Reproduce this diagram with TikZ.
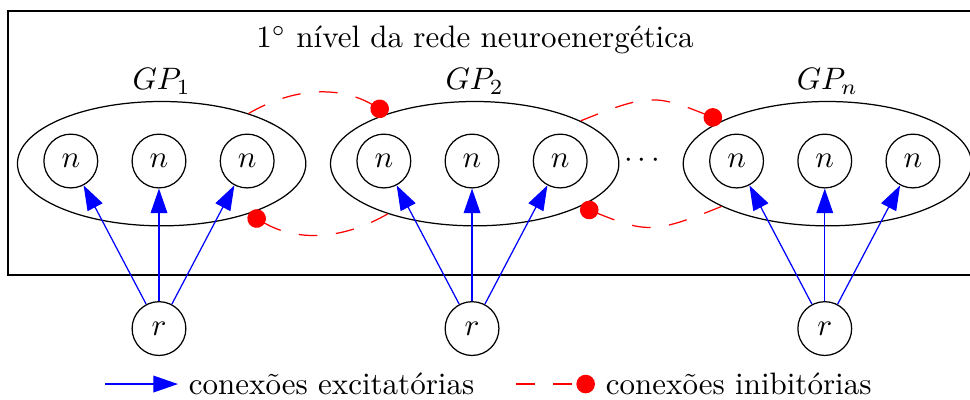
\documentclass[tikz,border=0pt]{standalone}
\usepackage{amsmath,amssymb}
\usetikzlibrary{arrows.meta,positioning,calc,shapes.geometric}

\begin{document}
\begin{tikzpicture}[
  neuron/.style={draw=black, circle, minimum size=6.1mm, inner sep=0pt},
  grupo/.style={draw=black, ellipse, minimum width=3.27cm, minimum height=1.41cm,
                inner sep=0pt, label={[inner sep=2pt]above:#1}},
  excit/.style={draw=blue, -{Triangle[length=2.8mm,width=1.9mm]}},
  inib/.style={draw=red, dash pattern=on 6pt off 6pt,
               -{Circle[length=6pt,color=red,fill=red]}},
  legenda/.style={anchor=west}
]
\useasboundingbox (-1.803,-2.699) rectangle (9.197,1.826);

% Level frame and title
\draw (-1.712,-1.293) rectangle (9.6,1.701);
\node (titulo) at (3.583,1.372) {1$^\circ$ nível da rede neuroenergética};

% Group GP_1
\node[grupo=$GP_1$] (gp1) at (0.03,-0.03) {};
\node[neuron] (n11) at (-1,0) {$n$};
\node[neuron] (n12) at (0,0) {$n$};
\node[neuron] (n13) at (1,0) {$n$};

% Group GP_2
\node[grupo=$GP_2$] (gp2) at (3.58,-0.03) {};
\node[neuron] (n21) at (2.55,0) {$n$};
\node[neuron] (n22) at (3.55,0) {$n$};
\node[neuron] (n23) at (4.55,0) {$n$};

\node (pontos) at (5.51,0) {$\cdots$};

% Group GP_n
\node[grupo=$GP_n$] (gp3) at (7.58,-0.03) {};
\node[neuron] (n31) at (6.55,0) {$n$};
\node[neuron] (n32) at (7.55,0) {$n$};
\node[neuron] (n33) at (8.55,0) {$n$};

% Input neurons
\node[neuron] (r1) at (0,-1.9) {$r$};
\node[neuron] (r2) at (3.55,-1.9) {$r$};
\node[neuron] (r3) at (7.55,-1.9) {$r$};

% Excitatory connections
\draw[excit] (r1) -- (n11);
\draw[excit] (r1) -- (n12);
\draw[excit] (r1) -- (n13);
\draw[excit] (r2) -- (n21);
\draw[excit] (r2) -- (n22);
\draw[excit] (r2) -- (n23);
\draw[excit] (r3) -- (n31);
\draw[excit] (r3) -- (n32);
\draw[excit] (r3) -- (n33);

% Inhibitory connections between groups
\draw[inib] (gp1) to[bend left=30] (gp2);
\draw[inib] (gp2) to[bend left=30] (gp1);
\draw[inib] (gp2) to[bend left=22, looseness=1.3] (gp3);
\draw[inib] (gp3) to[bend left=22, looseness=1.3] (gp2);

% Legend
\coordinate (lexc) at (-0.61,-2.529);
\node[legenda] (texc) at (0.215,-2.529) {conexões excitatórias};
\draw[excit] (lexc) -- (texc.west);
\coordinate (linib) at (4.048,-2.529);
\node[legenda] (tinib) at (4.944,-2.529) {conexões inibitórias};
\draw[inib] (linib) -- (tinib.west);

\end{tikzpicture}
\end{document}
